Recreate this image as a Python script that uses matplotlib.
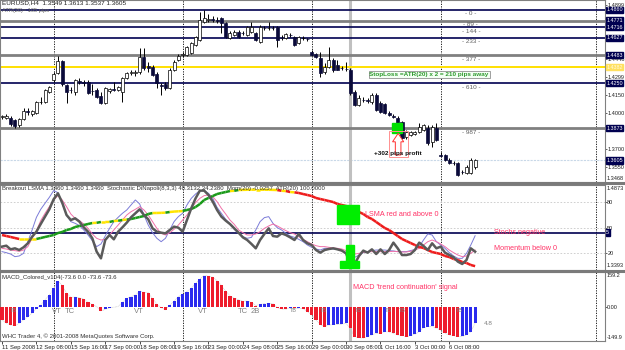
import matplotlib
matplotlib.use("Agg")
import numpy as np
import matplotlib.pyplot as plt
from matplotlib.collections import LineCollection
from matplotlib.lines import Line2D
from matplotlib.patches import Rectangle, FancyArrow
from matplotlib.transforms import blended_transform_factory as blend

# ==============================================================
# DATA  (EURUSD H4, 11 Sep 2008 -> 6 Oct 2008)
# ==============================================================

opens = [1.3967, 1.3958, 1.3958, 1.3942, 1.3900, 1.3950, 1.4017, 1.3992, 1.4000, 1.4092,
         1.4092, 1.4175, 1.4275, 1.4333, 1.4433, 1.4233, 1.4192, 1.4175, 1.4267, 1.4258,
         1.4258, 1.4183, 1.4192, 1.4142, 1.4083, 1.4183, 1.4200, 1.4192, 1.4175, 1.4292,
         1.4333, 1.4333, 1.4342, 1.4467, 1.4392, 1.4383, 1.4325, 1.4233, 1.4242, 1.4208,
         1.4358, 1.4442, 1.4483, 1.4483, 1.4500, 1.4567, 1.4608, 1.4758, 1.4775, 1.4783,
         1.4775, 1.4792, 1.4750, 1.4625, 1.4650, 1.4675, 1.4667, 1.4650, 1.4675, 1.4667,
         1.4592, 1.4708, 1.4708, 1.4708, 1.4717, 1.4625, 1.4625, 1.4650, 1.4633, 1.4583,
         1.4625, 1.4617, 1.4508, 1.4492, 1.4458, 1.4342, 1.4383, 1.4442, 1.4400, 1.4375,
         1.4367, 1.4358, 1.4175, 1.4067, 1.4108, 1.4108, 1.4092, 1.4150, 1.4083, 1.4075,
         1.4000, 1.3975, 1.3958, 1.3925, 1.3800, 1.3817, 1.3825, 1.3842, 1.3858, 1.3875,
         1.3758, 1.3875, 1.3650, 1.3650, 1.3608, 1.3583, 1.3583, 1.3508, 1.3500, 1.3500,
         1.3549]
highs = [1.3983, 1.3992, 1.3975, 1.3950, 1.3958, 1.4042, 1.4042, 1.4025, 1.4100, 1.4133,
         1.4200, 1.4225, 1.4342, 1.4475, 1.4442, 1.4242, 1.4217, 1.4283, 1.4292, 1.4275,
         1.4275, 1.4242, 1.4208, 1.4175, 1.4217, 1.4208, 1.4258, 1.4225, 1.4300, 1.4342,
         1.4358, 1.4358, 1.4542, 1.4542, 1.4425, 1.4400, 1.4342, 1.4250, 1.4258, 1.4375,
         1.4442, 1.4492, 1.4508, 1.4558, 1.4592, 1.4642, 1.4842, 1.4858, 1.4825, 1.4808,
         1.4800, 1.4800, 1.4758, 1.4683, 1.4692, 1.4692, 1.4683, 1.4725, 1.4758, 1.4675,
         1.4733, 1.4725, 1.4758, 1.4725, 1.4725, 1.4650, 1.4667, 1.4667, 1.4642, 1.4642,
         1.4642, 1.4625, 1.4525, 1.4500, 1.4508, 1.4417, 1.4550, 1.4458, 1.4442, 1.4392,
         1.4425, 1.4375, 1.4192, 1.4150, 1.4133, 1.4125, 1.4167, 1.4167, 1.4100, 1.4083,
         1.4017, 1.3992, 1.3975, 1.3933, 1.3858, 1.3850, 1.3850, 1.3917, 1.3908, 1.3900,
         1.3900, 1.3917, 1.3675, 1.3658, 1.3625, 1.3600, 1.3592, 1.3525, 1.3567, 1.3625,
         1.3613]
lows = [1.3950, 1.3950, 1.3892, 1.3875, 1.3883, 1.3942, 1.3983, 1.3975, 1.3992, 1.4075,
        1.4083, 1.4167, 1.4258, 1.4325, 1.4225, 1.4083, 1.4167, 1.4150, 1.4242, 1.4225,
        1.4158, 1.4150, 1.4125, 1.4075, 1.4075, 1.4167, 1.4183, 1.4183, 1.4092, 1.4283,
        1.4317, 1.4308, 1.4325, 1.4358, 1.4342, 1.4308, 1.4208, 1.4150, 1.4192, 1.4200,
        1.4350, 1.4433, 1.4467, 1.4475, 1.4492, 1.4558, 1.4600, 1.4750, 1.4758, 1.4758,
        1.4750, 1.4667, 1.4625, 1.4617, 1.4642, 1.4625, 1.4650, 1.4642, 1.4667, 1.4600,
        1.4583, 1.4692, 1.4692, 1.4692, 1.4550, 1.4608, 1.4617, 1.4633, 1.4558, 1.4575,
        1.4608, 1.4600, 1.4475, 1.4458, 1.4300, 1.4325, 1.4375, 1.4342, 1.4358, 1.4358,
        1.4350, 1.4150, 1.4058, 1.4058, 1.4092, 1.4083, 1.4075, 1.4017, 1.4000, 1.3992,
        1.3975, 1.3958, 1.3908, 1.3783, 1.3783, 1.3808, 1.3817, 1.3833, 1.3850, 1.3733,
        1.3717, 1.3767, 1.3633, 1.3600, 1.3575, 1.3567, 1.3475, 1.3492, 1.3492, 1.3492,
        1.3537]
closes = [1.3975, 1.3975, 1.3908, 1.3892, 1.3950, 1.4017, 1.4008, 1.4017, 1.4092, 1.4095,
          1.4192, 1.4217, 1.4325, 1.4433, 1.4242, 1.4175, 1.4188, 1.4275, 1.4258, 1.4250,
          1.4167, 1.4180, 1.4133, 1.4083, 1.4208, 1.4200, 1.4195, 1.4217, 1.4292, 1.4333,
          1.4342, 1.4340, 1.4467, 1.4375, 1.4378, 1.4317, 1.4250, 1.4228, 1.4208, 1.4358,
          1.4425, 1.4475, 1.4490, 1.4550, 1.4583, 1.4633, 1.4775, 1.4792, 1.4780, 1.4777,
          1.4770, 1.4750, 1.4633, 1.4667, 1.4675, 1.4633, 1.4664, 1.4717, 1.4717, 1.4608,
          1.4717, 1.4705, 1.4711, 1.4706, 1.4608, 1.4622, 1.4658, 1.4647, 1.4567, 1.4633,
          1.4628, 1.4614, 1.4483, 1.4467, 1.4333, 1.4383, 1.4442, 1.4358, 1.4360, 1.4372,
          1.4364, 1.4167, 1.4067, 1.4125, 1.4105, 1.4103, 1.4150, 1.4025, 1.4008, 1.4000,
          1.3983, 1.3967, 1.3917, 1.3792, 1.3842, 1.3842, 1.3840, 1.3883, 1.3900, 1.3750,
          1.3883, 1.3775, 1.3645, 1.3608, 1.3583, 1.3580, 1.3483, 1.3505, 1.3550, 1.3608,
          1.3605]

date_labels = ['11 Sep 2008', '12 Sep 08:00', '15 Sep 16:00', '17 Sep 00:00', '18 Sep 08:00',
               '19 Sep 16:00', '23 Sep 00:00', '24 Sep 08:00', '25 Sep 16:00', '29 Sep 00:00',
               '30 Sep 08:00', '1 Oct 16:00', '3 Oct 00:00', '6 Oct 08:00']
date_bars = [0, 8, 16, 24, 32, 40, 48, 56, 64, 72, 80, 88, 96, 104]
week_grid_bars = [12, 42, 72, 102, 138]
marker_bar = 81

# fibonacci lines counted in pips down from the 1.4860 top
fib_top = 1.4860
fib_pips = [0, 89, 144, 233, 377, 610, 987]
fib_colors = ['#000050', '#808080', '#000050', '#000050', '#808080', '#000050', '#808080']
stop_price = 1.4382
bid = 1.3605
price_ticks = [1.4899, 1.4448, 1.4299, 1.4150, 1.4000, 1.3700, 1.3550]

# breakout LSMA (price scale of sub window)
lsma = [1.4002, 1.3985, 1.3968, 1.3950, 1.3933, 1.3933, 1.3933, 1.3933, 1.3933, 1.3950,
        1.3968, 1.3985, 1.4002, 1.4037, 1.4055, 1.4089, 1.4107, 1.4142, 1.4159, 1.4176,
        1.4194, 1.4211, 1.4215, 1.4229, 1.4229, 1.4230, 1.4246, 1.4250, 1.4264, 1.4270,
        1.4281, 1.4298, 1.4316, 1.4333, 1.4368, 1.4385, 1.4386, 1.4388, 1.4392, 1.4403,
        1.4410, 1.4415, 1.4420, 1.4438, 1.4455, 1.4490, 1.4542, 1.4612, 1.4647, 1.4681,
        1.4716, 1.4734, 1.4751, 1.4768, 1.4772, 1.4786, 1.4788, 1.4790, 1.4791, 1.4792,
        1.4792, 1.4791, 1.4790, 1.4788, 1.4785, 1.4772, 1.4768, 1.4751, 1.4745, 1.4734,
        1.4716, 1.4699, 1.4681, 1.4647, 1.4629, 1.4612, 1.4594, 1.4577, 1.4542, 1.4525,
        1.4507, 1.4490, 1.4455, 1.4403, 1.4368, 1.4316, 1.4281, 1.4229, 1.4176, 1.4124,
        1.4089, 1.4037, 1.3985, 1.3933, 1.3898, 1.3863, 1.3828, 1.3793, 1.3776, 1.3741,
        1.3706, 1.3689, 1.3672, 1.3637, 1.3619, 1.3585, 1.3567, 1.3532, 1.3515, 1.3480,
        1.3460]
lsma_min, lsma_max = 1.3393, 1.4873

stoch_main = [21.6, 20.4, 18.8, 15.7, 16.5, 19.6, 33.3, 47.1, 62.0, 71.4,
              78.5, 85.5, 93.4, 91.0, 77.7, 64.7, 56.9, 54.9, 52.2, 47.1,
              41.2, 34.5, 27.5, 30.6, 40.0, 49.0, 56.9, 62.0, 66.7, 70.6,
              76.5, 82.4, 77.7, 64.7, 52.9, 43.9, 37.3, 33.3, 37.3, 47.1,
              56.9, 62.8, 66.7, 76.5, 84.3, 89.4, 93.4, 93.4, 90.2, 84.3,
              73.7, 66.7, 59.6, 54.1, 47.9, 43.1, 39.2, 37.3, 38.4, 47.1,
              56.9, 61.6, 62.8, 54.9, 49.8, 47.1, 43.1, 40.0, 38.4, 36.1,
              33.3, 29.4, 26.7, 24.7, 23.5, 25.5, 25.5, 24.7, 24.3, 23.5,
              18.8, 13.7, 14.9, 17.6, 20.4, 21.6, 22.8, 23.5, 23.5, 23.5,
              22.8, 22.4, 21.6, 21.6, 21.6, 22.8, 24.3, 27.5, 35.3, 42.4,
              41.2, 33.3, 29.4, 25.5, 20.4, 16.5, 13.7, 13.7, 19.6, 29.4,
              40.3]
stoch_signal = [25.5, 24.7, 23.5, 22.8, 22.0, 23.5, 27.5, 37.3, 46.3, 58.1,
                66.7, 74.5, 82.4, 87.5, 82.4, 74.5, 65.9, 60.8, 58.1, 54.1,
                49.0, 42.4, 37.3, 35.3, 36.1, 41.2, 47.1, 52.9, 58.8, 64.7,
                68.6, 71.4, 74.5, 70.6, 64.7, 56.9, 49.0, 43.1, 41.2, 43.9,
                47.9, 52.9, 58.8, 64.7, 72.6, 79.2, 84.3, 87.5, 88.3, 86.3,
                80.4, 72.6, 65.9, 58.8, 53.7, 47.1, 43.9, 41.2, 41.2, 42.4,
                45.1, 49.0, 51.8, 54.1, 51.8, 49.0, 46.3, 43.9, 42.4, 39.2,
                36.1, 33.3, 30.6, 28.6, 27.5, 27.5, 26.7, 25.9, 25.5, 24.7,
                22.8, 19.6, 18.8, 19.6, 20.8, 21.6, 21.6, 21.6, 21.6, 21.6,
                21.6, 22.0, 21.6, 21.2, 21.2, 22.0, 23.5, 25.5, 29.4, 33.3,
                35.3, 33.3, 30.6, 27.5, 23.5, 20.4, 17.6, 15.7, 16.5, 19.6,
                23.5]
momentum = [27.5, 28.6, 24.3, 25.5, 23.5, 26.7, 31.4, 39.2, 45.1, 54.1,
            62.8, 71.4, 83.2, 90.2, 79.2, 64.7, 58.8, 60.8, 56.9, 50.2,
            45.1, 37.3, 21.6, 13.7, 35.3, 41.2, 36.1, 45.1, 50.2, 55.7,
            62.0, 66.7, 71.4, 64.7, 59.6, 49.0, 45.1, 43.9, 43.1, 47.1,
            51.0, 49.8, 45.1, 58.8, 72.6, 84.3, 93.4, 93.4, 88.3, 80.4,
            70.6, 62.8, 58.1, 54.1, 49.0, 43.9, 38.4, 35.3, 30.6, 25.5,
            35.3, 42.4, 49.0, 40.0, 39.2, 43.1, 41.2, 38.4, 35.3, 42.4,
            35.3, 31.4, 29.4, 23.5, 20.4, 23.5, 24.7, 25.5, 24.3, 22.8,
            19.6, 5.9, 7.1, 16.5, 22.8, 20.4, 24.3, 18.8, 24.3, 18.8,
            23.5, 32.2, 25.5, 17.6, 17.6, 18.8, 23.5, 32.2, 28.3, 23.5,
            31.4, 25.5, 27.5, 20.4, 17.6, 14.9, 9.8, 7.1, 11.8, 25.5,
            21.6]
stoch_line_level = 44

macd = [-59, -74, -82, -85, -74, -59, -44, -29, -8, 9,
        32, 55, 85, 118, 100, 62, 44, 45, 42, 36,
        21, 12, 2, -18, -11, -4, -1, 2, 21, 39,
        47, 55, 73, 67, 65, 39, 12, -3, -14, 9,
        27, 47, 58, 70, 85, 108, 127, 143, 141, 136,
        120, 98, 72, 50, 40, 33, 26, 27, 21, 6,
        12, 15, 17, 15, -3, -9, -10, -4, -6, -6,
        -8, -21, -35, -60, -80, -89, -82, -80, -79, -78,
        -74, -97, -135, -140, -141, -135, -127, -120, -121, -112,
        -113, -120, -127, -130, -135, -130, -124, -112, -94, -89,
        -88, -97, -105, -120, -127, -130, -135, -134, -127, -112,
        -73.6]
macd_top, macd_bottom = 159.2, -154.7
macd_marks = [(2.6, 'TB'), (12.8, 'VT'), (15.8, 'TC'), (31.9, 'VT'), (46.7, 'VT'),
              (56.0, 'TC'), (58.8, '2B'), (67.7, 'TB'), (74.7, 'TB'), (82.8, 'TB'),
              (89.8, 'TB'), (93.0, 'TB'), (106.3, 'TB')]

# ==============================================================
# FIGURE
# ==============================================================

plt.rcParams['font.family'] = ['Liberation Sans', 'DejaVu Sans']
W, H = 625, 350
fig = plt.figure(figsize=(W / 100, H / 100), dpi=100, facecolor='white')

def panel(top, bottom):
    return fig.add_axes([0, 1 - bottom / H, 605 / W, (bottom - top) / H])

ax1 = panel(0, 182)
ax2 = panel(185, 270)
ax3 = panel(272, 341)

xs = np.arange(len(closes))
xlim = (-0.47, 140.2)
FS = 4.6
AX_FS = 4.0
TAG_FS = 3.9

for ax in (ax1, ax2, ax3):
    ax.set_xlim(*xlim)
    ax.set_facecolor('white')
    for s in ax.spines.values():
        s.set_color('#808080')
        s.set_linewidth(0.8)
    ax.yaxis.tick_right()
    ax.tick_params(axis='y', labelsize=AX_FS, length=1.2, pad=0.4, colors='#202020', width=0.5)
    ax.tick_params(axis='x', length=0)
    ax.set_xticks([])
    for b in week_grid_bars:
        ax.axvline(b, color='black', lw=0.6, ls=(0, (1.5, 1.5)), zorder=1)
    ax.axvline(marker_bar, color='#c0c0c0', lw=2.2, zorder=1.5)

def tag(ax, y, text, fc='#000050', tc='white'):
    ax.text(1.002, y, text, transform=blend(ax.transAxes, ax.transData), fontsize=TAG_FS,
            color=tc, va='center', ha='left', clip_on=False, zorder=20,
            bbox=dict(boxstyle='square,pad=0.12', fc=fc, ec=fc))

def side_text(ax, yfrac, text, va):
    ax.text(1.003, yfrac, text, transform=ax.transAxes, fontsize=AX_FS, color='#202020',
            va=va, ha='left', clip_on=False)

# ---------------- price panel ----------------
ax1.set_ylim(1.3425, 1.4942)
ax1.set_yticks(price_ticks)
ax1.set_yticklabels(['%.4f' % p for p in price_ticks])

for pips, col in zip(fib_pips, fib_colors):
    lvl = fib_top - pips / 10000
    ax1.axhline(lvl, color=col, lw=2.0 if col == '#808080' else 1.2, zorder=2)
    ax1.text(109, lvl - 0.0013, '- %d -' % pips, fontsize=FS, color='#606060',
             ha='center', va='top', zorder=3)
    tag(ax1, lvl, '%.4f' % lvl)
ax1.axhline(stop_price, color='#ffe000', lw=1.4, zorder=2)
tag(ax1, stop_price, '%.4f' % stop_price, fc='#ffe060', tc='#fffbe0')
ax1.axhline(bid, color='#c8d8e8', lw=0.8, ls=(0, (2, 1)), zorder=1)
tag(ax1, bid, '%.4f' % bid)

o = np.array(opens); c = np.array(closes)
ax1.vlines(xs, lows, highs, color='black', lw=0.7, zorder=4)
bottoms = np.minimum(o, c)
heights = np.maximum(np.abs(c - o), 0.00012)
up = c >= o
ax1.bar(xs[up], heights[up], bottom=bottoms[up], width=0.7, color='white',
        edgecolor='black', linewidth=0.5, zorder=5)
ax1.bar(xs[~up], heights[~up], bottom=bottoms[~up], width=0.7, color='#0a0a3a',
        edgecolor='#0a0a3a', linewidth=0.5, zorder=5)

ax1.text(0.004, 0.997, 'EURUSD,H4  1.3549 1.3613 1.3537 1.3605', transform=ax1.transAxes,
         fontsize=FS, color='#202020', va='top', ha='left', zorder=6)
ax1.text(0.004, 0.955, 'ATR(20)= 105 pips', transform=ax1.transAxes,
         fontsize=FS - 0.5, color='#606060', va='top', ha='left', zorder=6)
ax1.text(99.3, 1.4318, 'StopLoss =ATR(20) x 2 = 210 pips away', fontsize=FS,
         color='#2e9a2e', fontweight='bold', ha='center', va='center', zorder=8,
         bbox=dict(boxstyle='square,pad=0.15', fc='#f4fff4', ec='#909090', lw=0.6))
side_text(ax1, 0.005, '1.3468', 'bottom')

# trade exit marks
ax1.add_patch(Rectangle((90.7, 1.3833), 2.4, 0.0084, color='#00e000', zorder=6))
ax1.add_patch(Rectangle((89.9, 1.3633), 4.4, 0.0217, fill=False, ec='#ff9090', lw=0.7, zorder=7))
ax1.add_patch(FancyArrow(92.1, 1.3650, 0, 0.0180, width=1.3, head_width=2.6,
                         head_length=0.0070, length_includes_head=True, fc='white',
                         ec='#ff3030', lw=0.7, zorder=8))
ax1.text(92.1, 1.3662, '+302 pips profit', fontsize=FS, fontweight='bold', color='#101010',
         ha='center', va='center', zorder=9)

# ---------------- indicator panel ----------------
ax2.set_ylim(0, 100)
ax2.set_yticks([80, 50, 20])
for lv in (80, 50, 20):
    ax2.axhline(lv, color='#c8c8c8', lw=0.6, ls=(0, (2, 2)), zorder=1)
ax2.axhline(stoch_line_level, color='#000050', lw=1.2, zorder=2)
tag(ax2, stoch_line_level, '5')
side_text(ax2, 0.99, '%.4f' % lsma_max, 'top')
side_text(ax2, 0.02, '%.4f' % lsma_min, 'bottom')

lsma_n = (np.array(lsma) - lsma_min) / (lsma_max - lsma_min) * 100
pts = np.column_stack([xs, lsma_n]).reshape(-1, 1, 2)
segs = np.concatenate([pts[:-1], pts[1:]], axis=1)
slope = np.diff(lsma)
seg_cols = ['#1a9a1a' if d > 0.0008 else ('#ee1c1c' if d < -0.0008 else '#ffe400') for d in slope]
ax2.add_collection(LineCollection(segs, colors=seg_cols, linewidths=1.8, zorder=4))
ax2.plot(xs, stoch_main, color='#7b7bd8', lw=0.7, zorder=3)
ax2.plot(xs, stoch_signal, color='#f070a8', lw=0.7, zorder=3)
ax2.plot(xs, momentum, color='#5a5a5a', lw=1.8, zorder=5)

ax2.add_patch(Rectangle((78.0, 54), 5.0, 22, color='#00ee00', zorder=6))
ax2.add_patch(Rectangle((80.0, 10), 1.8, 20, color='#00ee00', zorder=6))
ax2.add_patch(Rectangle((78.7, 2), 4.2, 9, color='#00ee00', zorder=6))
ax2.text(84.5, 65, 'LSMA red and above 0', fontsize=FS + 0.6, color='#ff3366', va='center', zorder=7)
ax2.text(114.5, 44, 'Stochs negative', fontsize=FS + 0.6, color='#ff3366', va='center', zorder=7)
ax2.text(114.5, 25, 'Momentum below 0', fontsize=FS + 0.6, color='#ff3366', va='center', zorder=7)
ax2.text(0.004, 0.99, 'Breakout LSMA 1.3460 1.3460 1.3460  Stochastic DiNapoli(8,3,3) 40.3132 34.2380  '
         'Mom(20) -0.0257  ATR(20) 100.0000', transform=ax2.transAxes, fontsize=FS - 0.3,
         color='#303030', va='top', ha='left', zorder=8)

# ---------------- MACD panel ----------------
ax3.set_ylim(macd_bottom, macd_top)
ax3.set_yticks([0])
ax3.set_yticklabels(['0.00'])
side_text(ax3, 0.99, '159.2', 'top')
side_text(ax3, 0.02, '-149.9', 'bottom')
m = np.array(macd)
mcol = ['#ee1c2c' if i > 0 and m[i] < m[i - 1] else '#2b2bee' for i in range(len(m))]
mcol[0] = '#ee1c2c'
ax3.bar(xs, m, width=0.72, color=mcol, zorder=3)
ax3.plot(xs, m, color='#c0c0c0', lw=0.5, ls=(0, (1, 1)), zorder=2)
for b, t in macd_marks:
    big = t != 'TB'
    ax3.text(b, -6, t, fontsize=FS + (0.9 if big else -0.7), color='#808080',
             ha='center', va='top', zorder=4)
ax3.text(112, -75, '4.8', fontsize=FS, color='#808080', va='center', zorder=4)
ax3.text(81.5, 88, "MACD 'trend continuation' signal", fontsize=FS + 0.6, color='#ff3366',
         va='center', zorder=5)
ax3.text(0.004, 0.96, 'MACD_Colored_v104(-73.6 0.0 -73.6 -73.6', transform=ax3.transAxes,
         fontsize=FS - 0.3, color='#303030', va='top', ha='left')
ax3.text(0.004, 0.03, 'WHC Trader 4, \u00a9 2001-2008 MetaQuotes Software Corp.',
         transform=ax3.transAxes, fontsize=FS - 0.3, color='#303030', va='bottom', ha='left')

ax3.set_xticks(date_bars)
ax3.set_xticklabels(date_labels, fontsize=AX_FS + 0.2, ha='left', color='#202020')
ax3.tick_params(axis='x', length=2, pad=1, width=0.5)

# panel separators
for ypix in (183.5, 270.8):
    fig.add_artist(Line2D([0, 1], [1 - ypix / H] * 2, color='#7a7a7a', lw=2.2,
                          transform=fig.transFigure))

fig.savefig('out.png', dpi=100)
